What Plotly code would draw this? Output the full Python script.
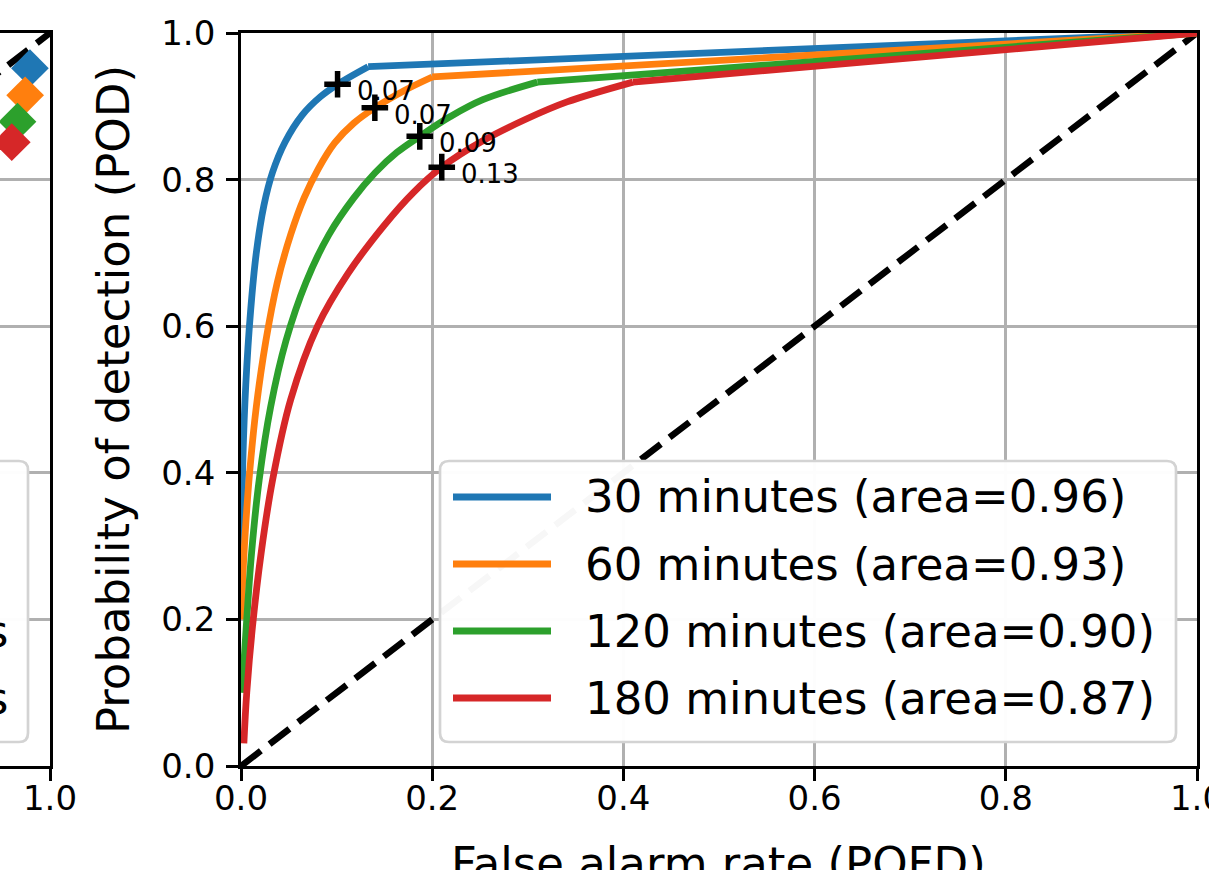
import plotly.graph_objects as go

W, H = 1209, 870
FONT = "DejaVu Sans"

# ---------------- data ----------------
series_names = ["30 minutes", "60 minutes", "120 minutes", "180 minutes"]
series_areas = [0.96, 0.93, 0.90, 0.87]
colors = ["#1f77b4", "#ff7f0e", "#2ca02c", "#d62728"]

pofd_30 = [0.0005, 0.002, 0.005, 0.010, 0.016, 0.024, 0.033, 0.046, 0.064, 0.083, 0.101, 0.133, 1.0]
pod_30 = [0.30, 0.42, 0.52, 0.62, 0.70, 0.765, 0.81, 0.851, 0.888, 0.913, 0.930, 0.954, 1.0]

pofd_60 = [0.0005, 0.002, 0.005, 0.009, 0.016, 0.026, 0.038, 0.052, 0.066, 0.081, 0.098, 0.118,
           0.140, 0.170, 0.200, 1.0]
pod_60 = [0.20, 0.26, 0.33, 0.40, 0.49, 0.58, 0.66, 0.725, 0.775, 0.815, 0.850, 0.877,
          0.898, 0.921, 0.940, 1.0]

pofd_120 = [0.001, 0.006, 0.011, 0.019, 0.031, 0.047, 0.068, 0.092, 0.118, 0.140, 0.163, 0.187,
            0.219, 0.253, 0.310, 1.0]
pod_120 = [0.10, 0.20, 0.29, 0.39, 0.49, 0.58, 0.66, 0.725, 0.775, 0.809, 0.837, 0.859,
           0.886, 0.909, 0.933, 1.0]

pofd_180 = [0.003, 0.006, 0.012, 0.021, 0.033, 0.052, 0.080, 0.112, 0.150, 0.180, 0.210, 0.253,
            0.299, 0.341, 0.410, 1.0]
pod_180 = [0.031, 0.10, 0.19, 0.29, 0.39, 0.50, 0.60, 0.672, 0.738, 0.782, 0.817, 0.853,
           0.883, 0.906, 0.933, 1.0]

curves_x = [pofd_30, pofd_60, pofd_120, pofd_180]
curves_y = [pod_30, pod_60, pod_120, pod_180]

thr_pofd = [0.101, 0.140, 0.187, 0.210]
thr_pod = [0.930, 0.898, 0.859, 0.817]
thr_labels = ["0.07", "0.07", "0.09", "0.13"]

diag = [0.0, 1.0]

# left (cropped) panel
left_x = [0.979, 0.974, 0.966, 0.960]
left_y = [0.952, 0.915, 0.879, 0.851]
left_legend_tail = ["s", "s"]

tick_vals = [0.0, 0.2, 0.4, 0.6, 0.8, 1.0]
tick_text = ["0.0", "0.2", "0.4", "0.6", "0.8", "1.0"]

x_title = "False alarm rate (POFD)"
y_title = "Probability of detection (POD)"

# ---------------- helpers ----------------
def pxx(p):
    return p / W

def pxy(p):
    return 1 - p / H

fig = go.Figure()

# left panel
fig.add_trace(go.Scatter(x=diag, y=diag, mode="lines", xaxis="x", yaxis="y",
                         line=dict(color="black", width=6.5, dash="25px,11px"),
                         showlegend=False, hoverinfo="skip"))
fig.add_trace(go.Scatter(x=left_x, y=left_y, mode="markers", xaxis="x", yaxis="y",
                         marker=dict(symbol="diamond", size=29, color=colors, line=dict(width=0)),
                         showlegend=False, cliponaxis=True))

# main panel
fig.add_trace(go.Scatter(x=diag, y=diag, mode="lines", xaxis="x2", yaxis="y2",
                         line=dict(color="black", width=6.5, dash="25px,11px"),
                         showlegend=False, hoverinfo="skip"))
for name, area, c, xs, ys in zip(series_names, series_areas, colors, curves_x, curves_y):
    # smooth curved part, then the straight segment up to (1, 1)
    fig.add_trace(go.Scatter(x=xs[:-1], y=ys[:-1], mode="lines", xaxis="x2", yaxis="y2",
                             line=dict(color=c, width=6.8, shape="spline", smoothing=1.0),
                             name=f"{name} (area={area:.2f})", showlegend=False))
    fig.add_trace(go.Scatter(x=xs[-2:], y=ys[-2:], mode="lines", xaxis="x2", yaxis="y2",
                             line=dict(color=c, width=6.8),
                             name=f"{name} (area={area:.2f})", showlegend=False))
fig.add_trace(go.Scatter(x=thr_pofd, y=thr_pod, mode="markers", xaxis="x2", yaxis="y2",
                         marker=dict(symbol="cross-thin", size=19,
                                     line=dict(color="black", width=5.5)),
                         showlegend=False))

annotations = []
for xv, yv, t in zip(thr_pofd, thr_pod, thr_labels):
    annotations.append(dict(x=xv, y=yv, xref="x2", yref="y2", text=t, showarrow=False,
                            xanchor="left", yanchor="middle", xshift=17, yshift=-7,
                            font=dict(family=FONT, size=26, color="black")))

# x-axis title (placed as text so it may run past the bottom edge like the original)
annotations.append(dict(x=(241 + 1197) / 2 / W, y=pxy(835), xref="paper", yref="paper",
                        text=x_title, showarrow=False, xanchor="center", yanchor="top",
                        font=dict(family=FONT, size=45, color="black")))

# manual legend (main panel)
shapes = []
L, R, T, B = pxx(440), pxx(1176), pxy(461), pxy(742)
rx, ry = 9 / W, 9 / H
path = (f"M{L+rx},{T} L{R-rx},{T} Q{R},{T} {R},{T-ry} L{R},{B+ry} Q{R},{B} {R-rx},{B} "
        f"L{L+rx},{B} Q{L},{B} {L},{B+ry} L{L},{T-ry} Q{L},{T} {L+rx},{T} Z")
shapes.append(dict(type="path", path=path, xref="paper", yref="paper", layer="above",
                   fillcolor="rgba(255,255,255,0.97)", line=dict(color="#d3d3d3", width=2.7)))
rows = [497, 564, 631, 698]
for name, area, c, ry_ in zip(series_names, series_areas, colors, rows):
    shapes.append(dict(type="line", xref="paper", yref="paper", layer="above",
                       x0=pxx(453), x1=pxx(551), y0=pxy(ry_), y1=pxy(ry_),
                       line=dict(color=c, width=6.8)))
    annotations.append(dict(x=pxx(583), y=pxy(ry_), xref="paper", yref="paper",
                            text=f"{name} (area={area:.2f})", showarrow=False,
                            xanchor="left", yanchor="middle",
                            font=dict(family=FONT, size=45, color="black")))

# cropped legend of left panel
L2, R2 = pxx(-300), pxx(28)
path2 = (f"M{L2},{T} L{R2-rx},{T} Q{R2},{T} {R2},{T-ry} L{R2},{B+ry} Q{R2},{B} {R2-rx},{B} "
         f"L{L2},{B} Z")
shapes.append(dict(type="path", path=path2, xref="paper", yref="paper", layer="above",
                   fillcolor="rgba(255,255,255,0.97)", line=dict(color="#d3d3d3", width=2.7)))
for t, ry_ in zip(left_legend_tail, rows[2:]):
    annotations.append(dict(x=pxx(10), y=pxy(ry_), xref="paper", yref="paper", text=t,
                            showarrow=False, xanchor="right", yanchor="middle",
                            font=dict(family=FONT, size=45, color="black")))

axis_common = dict(range=[0, 1], tickvals=tick_vals, ticktext=tick_text,
                   showgrid=True, gridcolor="#b0b0b0", gridwidth=2.5,
                   zeroline=False, showline=True, linecolor="black", linewidth=2.8,
                   ticks="outside", ticklen=12, tickwidth=2.7, tickcolor="black",
                   tickfont=dict(family=FONT, size=34, color="black"),
                   ticklabeloverflow="allow", automargin=False)

dom_x_main = [pxx(241), pxx(1197)]
dom_y = [pxy(766), pxy(33)]
left_w = 50
left_range = [1 - left_w / (1197 - 241), 1.0]

fig.update_layout(
    width=W, height=H,
    margin=dict(l=0, r=0, t=0, b=0),
    paper_bgcolor="white", plot_bgcolor="white",
    font=dict(family=FONT, color="black"),
    showlegend=False,
    xaxis=dict(axis_common, domain=[0, pxx(left_w)], range=left_range, mirror=True,
               anchor="y", ticklabelstandoff=-12),
    yaxis=dict(axis_common, domain=dom_y, anchor="x", side="right", mirror=False,
               showticklabels=False, ticks=""),
    xaxis2=dict(axis_common, domain=dom_x_main, anchor="y2", mirror=True,
                ticklabelstandoff=-12),
    yaxis2=dict(axis_common, domain=dom_y, anchor="x2", mirror=True,
                ticklabelstandoff=4,
                title=dict(text=y_title, standoff=18,
                           font=dict(family=FONT, size=45, color="black"))),
    shapes=shapes,
    annotations=annotations,
)

fig.write_html("out.html")
